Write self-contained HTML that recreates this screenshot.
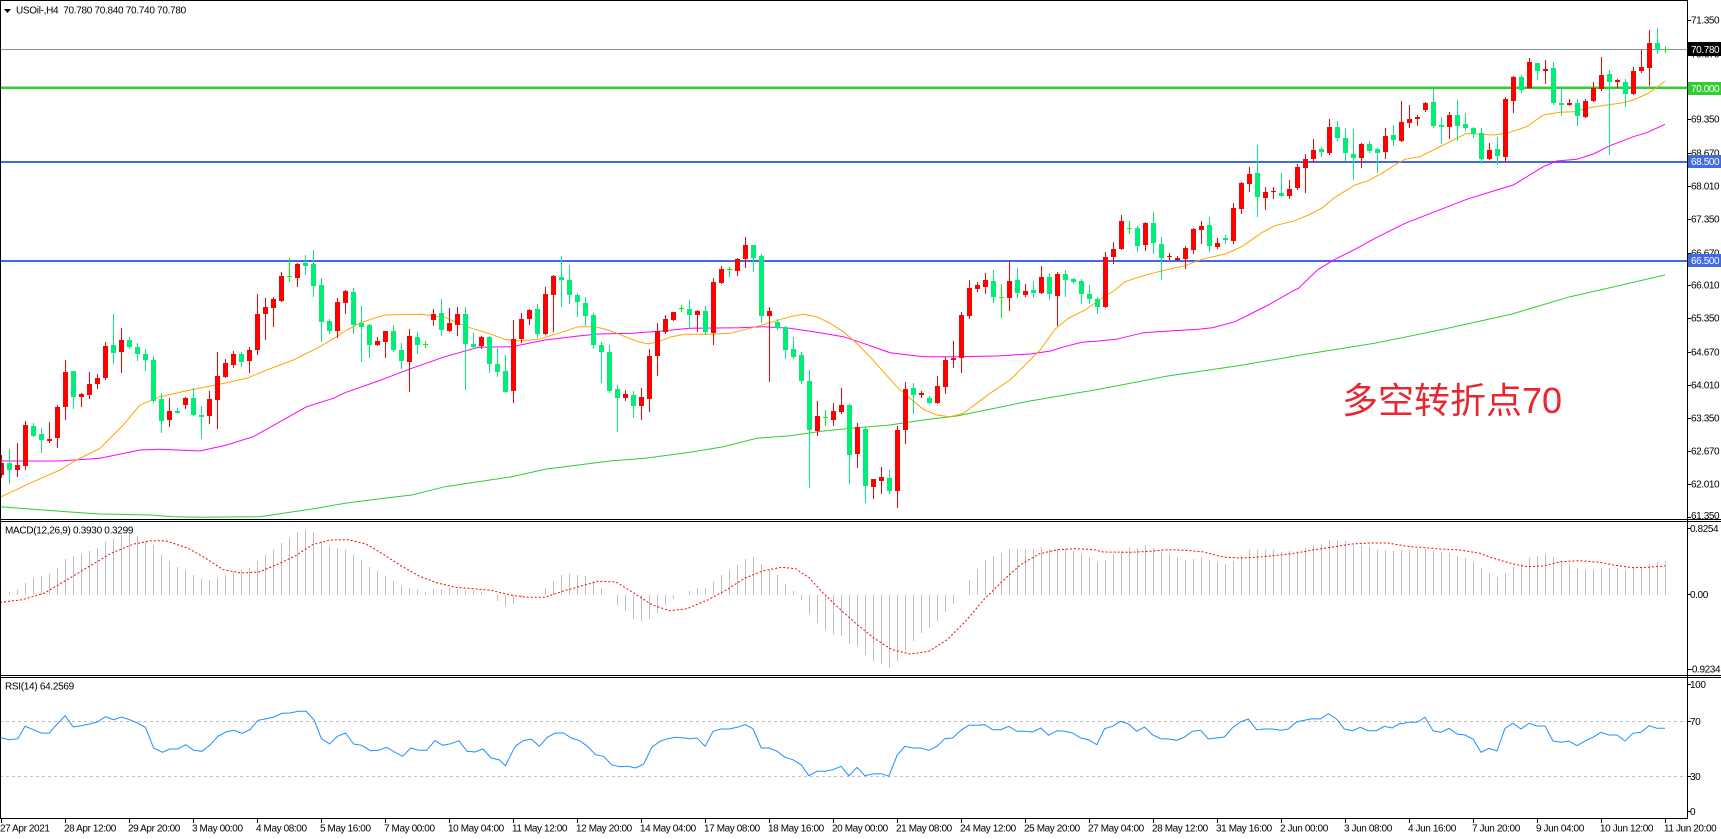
<!DOCTYPE html>
<html><head><meta charset="utf-8">
<style>
html,body{margin:0;padding:0;background:#fff;width:1721px;height:839px;overflow:hidden}
svg{display:block}
text{font-family:"Liberation Sans","DejaVu Sans",sans-serif;font-size:10px;fill:#000;letter-spacing:-0.4px}
</style></head><body>
<svg id="s" width="1721" height="839" viewBox="0 0 1721 839" xmlns="http://www.w3.org/2000/svg">
<rect width="1721" height="839" fill="#fff"/>
<g id="lv" shape-rendering="crispEdges">
<rect x="0" y="49" width="1687" height="1" fill="#8a949c"/>
<rect x="0" y="86.5" width="1687" height="2.7" fill="#32cd32"/>
<rect x="0" y="161" width="1687" height="2" fill="#4169e1"/>
<rect x="0" y="260" width="1687" height="2" fill="#4169e1"/>
<rect x="0" y="721" width="1687" height="1" fill="none"/>
</g>
<g id="ma"></g>
<g id="g" shape-rendering="crispEdges"></g>
<g id="sub"></g>
<!-- borders -->
<g shape-rendering="crispEdges" fill="#000">
<rect x="0" y="0" width="1688" height="1"/>
<rect x="0" y="0" width="1" height="819"/>
<rect x="1687" y="0" width="1" height="819"/>
<rect x="0" y="519" width="1721" height="1"/>
<rect x="0" y="521" width="1721" height="1"/>
<rect x="0" y="675" width="1721" height="1"/>
<rect x="0" y="677" width="1721" height="1"/>
<rect x="0" y="818" width="1688" height="1"/>
</g>
<g id="ticks" shape-rendering="crispEdges" fill="#000"></g>
<!-- header -->
<polygon points="4,9 11,9 7.5,13" fill="#000"/>
<text x="16" y="13.5" style="letter-spacing:-0.3px">USOil-,H4&#160;&#160;70.780 70.840 70.740 70.780</text>
<text x="5" y="533.5" style="letter-spacing:-0.3px">MACD(12,26,9) 0.3930 0.3299</text>
<text x="5" y="689.5" style="letter-spacing:-0.3px">RSI(14) 64.2569</text>
<!-- price axis labels -->
<text x="1691" y="23.6">71.350</text>
<text x="1691" y="57.6">70.670</text>
<text x="1691" y="90.6">70.010</text>
<text x="1691" y="122.6">69.350</text>
<text x="1691" y="156.6">68.670</text>
<text x="1691" y="189.6">68.010</text>
<text x="1691" y="222.6">67.350</text>
<text x="1691" y="256.6">66.670</text>
<text x="1691" y="288.6">66.010</text>
<text x="1691" y="321.6">65.350</text>
<text x="1691" y="355.6">64.670</text>
<text x="1691" y="388.6">64.010</text>
<text x="1691" y="421.6">63.350</text>
<text x="1691" y="454.6">62.670</text>
<text x="1691" y="487.6">62.010</text>
<text x="1691" y="518.8">61.350</text>
<g shape-rendering="crispEdges">
<rect x="1688" y="42" width="33" height="14" fill="#000"/>
<rect x="1688" y="82" width="33" height="13" fill="#32cd32"/>
<rect x="1688" y="155" width="33" height="13" fill="#4169e1"/>
<rect x="1688" y="254" width="33" height="13" fill="#4169e1"/>
</g>
<text x="1691" y="52.8" style="fill:#fff">70.780</text>
<text x="1691" y="92" style="fill:#fff">70.000</text>
<text x="1691" y="165.2" style="fill:#fff">68.500</text>
<text x="1691" y="264.2" style="fill:#fff">66.500</text>
<!-- MACD axis -->
<text x="1690" y="532">0.8254</text>
<text x="1690" y="598">0.00</text>
<text x="1689" y="672.5">-0.9234</text>
<!-- RSI axis -->
<text x="1690" y="688">100</text>
<text x="1690" y="725">70</text>
<text x="1690" y="780">30</text>
<text x="1690" y="815">0</text>
<!-- time axis -->
<text x="0" y="831.5">27 Apr 2021</text>
<text x="64" y="831.5">28 Apr 12:00</text>
<text x="128" y="831.5">29 Apr 20:00</text>
<text x="192" y="831.5">3 May 00:00</text>
<text x="256" y="831.5">4 May 08:00</text>
<text x="320" y="831.5">5 May 16:00</text>
<text x="384" y="831.5">7 May 00:00</text>
<text x="448" y="831.5">10 May 04:00</text>
<text x="512" y="831.5">11 May 12:00</text>
<text x="576" y="831.5">12 May 20:00</text>
<text x="640" y="831.5">14 May 04:00</text>
<text x="704" y="831.5">17 May 08:00</text>
<text x="768" y="831.5">18 May 16:00</text>
<text x="832" y="831.5">20 May 00:00</text>
<text x="896" y="831.5">21 May 08:00</text>
<text x="960" y="831.5">24 May 12:00</text>
<text x="1024" y="831.5">25 May 20:00</text>
<text x="1088" y="831.5">27 May 04:00</text>
<text x="1152" y="831.5">28 May 12:00</text>
<text x="1216" y="831.5">31 May 16:00</text>
<text x="1280" y="831.5">2 Jun 00:00</text>
<text x="1344" y="831.5">3 Jun 08:00</text>
<text x="1408" y="831.5">4 Jun 16:00</text>
<text x="1472" y="831.5">7 Jun 20:00</text>
<text x="1536" y="831.5">9 Jun 04:00</text>
<text x="1600" y="831.5">10 Jun 12:00</text>
<text x="1664" y="831.5">11 Jun 20:00</text>
<!-- annotation -->
<text x="1342" y="413" style="font-family:'Liberation Sans','Noto Sans CJK SC','WenQuanYi Zen Hei',sans-serif;font-size:36px;fill:#e8262d;letter-spacing:0">多空转折点70</text>
</svg>
<script>
(function(){
var NS='http://www.w3.org/2000/svg';
function el(p,t,a){var e=document.createElementNS(NS,t);for(var k in a)e.setAttribute(k,a[k]);p.appendChild(e);return e;}
var G=document.getElementById('g'),MA=document.getElementById('ma'),SUB=document.getElementById('sub'),TK=document.getElementById('ticks');
var COL={R:'#ff0000',G:'#00ee76',L:'#00ff00'};
var sets=[
[0,0,"R1365,1388,1425,1432 G1348,1388,1410,1448 R1330,1395,1410,1428 R1263,1275,1398,1408 G1270,1278,1308,1308 G1285,1302,1320,1355 R1265,1317,1323,1325 R1215,1220,1313,1340 R1080,1115,1220,1257 G1112,1112,1190,1225 R1180,1182,1190,1218 R1115,1152,1185,1193 R1122,1133,1153,1165 R1025,1038,1135,1137 G942,1035,1058,1090 R985,1020,1055,1115 G1012,1020,1040,1045 G1030,1042,1062,1080 G1048,1062,1080,1110 G1068,1080,1203,1205 G1180,1198,1262,1295 R1195,1233,1260,1278 G1225,1233,1240,1240 R1190,1195,1215,1225 G1165,1195,1245,1245 G1218,1245,1250,1315 R1172,1197,1248,1268 R1055,1128,1200,1285 R1078,1090,1130,1130 R1052,1062,1095,1100 G1055,1062,1085,1098 R1042,1050,1082,1115 R882,942,1050,1062 R895,920,942,1018 R890,897,925,978 R815,828,902,902 L775,828,832,842 R790,792,833,858 G765,790,797,822 G750,792,857,888 G835,855,965,1022 G958,963,993,1000 R895,905,992,1012 R870,873,908,938"],
[44,200,"G265,276,375,398 G318,370,380,483 G372,375,435,470 R410,422,435,435 R393,393,425,470 G375,393,450,452 G430,450,483,505 R387,408,485,572 G397,410,435,458 L423,431,434,440 R327,342,360,375 G297,340,390,405 R323,370,392,392 R322,342,375,405 G322,342,432,567 G400,432,440,445 R408,410,437,443 G408,410,492,515 G443,492,515,527 G465,513,575,575 R360,417,573,605 R340,357,417,425 R328,330,357,373 G312,327,402,412 R262,282,402,402 R225,228,285,392 G168,232,240,318 G195,240,285,310 G280,285,305,347 G292,309,347,375 G340,345,435,443 G427,435,456,545 G435,456,573,575 G555,567,593,692 R570,583,593,600 G573,585,617,650 R563,590,617,656 R447,467,597,632 R368,393,468,525 R345,357,395,400 R335,336,360,360 L315,323,328,333 G300,327,345,380"],
[87,170,"R420,423,435,482 G408,423,485,492 R323,336,488,523 R288,297,338,338 L292,297,302,317 R265,268,302,315 R200,225,268,290 G225,225,263,302 G252,258,437,455 R410,423,437,632 G448,455,475,478 G467,470,540,565 G500,537,562,565 G545,555,632,640 G600,632,780,950 R692,738,782,795 L720,740,743,765 R698,723,750,765 R653,705,725,730 G702,705,855,938 R760,772,852,890 G772,777,947,995 R927,927,950,983 R890,920,933,970 G900,923,963,968 R768,780,962,1010 R635,657,780,820 G640,653,675,728 R662,668,675,680 G678,685,700,700 R618,648,700,700 R562,570,650,668 R513,563,570,590 R425,435,563,605 R330,355,437,445 R335,345,357,362 R310,330,350,370 G300,333,380,395 L342,380,383,440 R272,333,383,420 G293,330,370,382 R343,363,375,378 G333,360,370,380"],
[130,60,"R618,650,700,700 G640,650,703,717 R635,642,707,795 G630,642,660,707 G653,657,665,670 G658,663,703,730 G675,702,717,730 G710,717,742,760 R575,590,740,740 R545,567,590,610 R465,483,567,567 L483,503,507,520 G497,503,557,572 R485,488,555,570 G457,488,550,578 G530,552,593,657 R580,588,590,597 R588,593,600,600 R558,563,597,623 R503,507,570,578 R483,497,510,548 G470,495,557,572 R535,548,560,563 G525,533,540,548 R428,443,543,550 R365,368,447,458 R320,342,372,393 G255,340,412,467 R380,395,413,447 R380,392,397,415 G340,398,407,407 R360,387,407,415 R312,320,383,387 R283,297,323,397 R237,270,297,302 G262,268,275,288 R177,200,278,282 G183,200,233,240 G205,233,280,300 G207,282,293,358 R250,252,293,320 G243,252,272,275 G263,268,278,335 R205,228,275,293 G195,225,240,255 R122,185,242,242"],
[176,0,"R315,357,368,380 R345,350,357,375 R305,308,330,332 G265,305,378,382 G350,375,380,428 R337,345,380,415 G300,345,378,420 G340,372,383,390 G380,383,403,410 G385,400,477,488 R430,450,478,478 G410,447,467,493 R290,297,470,482 R228,230,302,335 G225,232,270,275 R175,185,265,265 G188,190,212,237 R180,207,212,250 G185,203,310,312 G265,310,315,345 R298,310,315,315 G298,310,347,375 R298,302,350,350 R245,263,302,302 R170,225,268,270 G210,222,245,462 R238,240,245,260 G238,247,282,318 R200,213,283,283 R150,202,212,215 R90,128,205,255 G84,128,150,160 L138,148,150,155"]
];
sets.forEach(function(s){
  var start=s[0],off=s[1],items=s[2].split(' ');
  items.forEach(function(it,j){
    var c=it[0],v=it.slice(1).split(',').map(Number),i=start+j,cx=1+8*i;
    var hi=Math.round(off+v[0]/3),tp=Math.round(off+v[1]/3),bt=Math.round(off+v[2]/3),lo=Math.round(off+v[3]/3);
    var col=COL[c];
    el(G,'rect',{x:cx,y:hi,width:1,height:Math.max(1,lo-hi+1),fill:col});
    if(c==='L'){el(G,'rect',{x:cx-2,y:tp,width:5,height:1,fill:col});}
    else el(G,'rect',{x:cx-2,y:tp,width:5,height:Math.max(1,bt-tp),fill:col});
  });
});
function pl(par,pts,col,extra){
  var a={points:pts.map(function(p){return p[0].toFixed(1)+','+p[1].toFixed(1);}).join(' '),fill:'none',stroke:col,'stroke-width':1};
  if(extra)for(var k in extra)a[k]=extra[k];
  el(par,'polyline',a);
}
var orange=[[0,497.3],[33.3,481.7],[60,470],[76.7,460],[100,448.3],[123.3,425],[140,405],[160,396.7],[186.7,390.7],[206.7,386.7],[226.7,382.7],[246.7,378.3],[266.7,370],[293.3,360],[320,346.7],[336.7,336.7],[345,331],[361,322.7],[377,317.3],[385,315],[421.7,314.3],[431.7,315.7],[445,317.3],[458.3,323.3],[471.7,328.3],[488.3,333.3],[505,339.3],[518.3,341],[538.3,339.3],[558.3,333.3],[578.3,326.7],[595,326.7],[608.3,330],[625,336.7],[638.3,341.7],[648.3,344],[658.3,341.7],[671.7,336.7],[685,334.3],[710,334.3],[730,333.3],[750,328.3],[770,322.7],[790,316.7],[803.3,314.3],[816.7,316.7],[830,323.3],[843.3,331.7],[856.7,343.3],[870,356.7],[883.3,371.7],[896.7,386.7],[910,398.3],[923.3,409.3],[936.7,415],[950,416.7],[963.3,413.3],[976.7,403.3],[990,393.3],[1010,380],[1023.3,366.7],[1030,360],[1040,350],[1055,329.3],[1068.3,318.3],[1085,310],[1101.7,298.3],[1115,290],[1125,281.7],[1135,278.3],[1148.3,274.3],[1168.3,269.3],[1185,265.7],[1201.7,259.3],[1225,254],[1241.7,246.7],[1261.7,232.7],[1275,225.7],[1295,220.7],[1308.3,215],[1321.7,208.3],[1335,197.3],[1355,185],[1368.3,180.7],[1381.7,173.3],[1395,165],[1405,159.3],[1420,156.7],[1433.3,150],[1450,141.7],[1466.7,133.3],[1480,134.3],[1493.3,135],[1506.7,133.3],[1526.7,126.7],[1543.3,115],[1560,112.3],[1573.3,111.7],[1586.7,108.3],[1606.7,105],[1620,103.3],[1633.3,100],[1646.7,94],[1656.7,87.7],[1665,81]];
var magenta=[[0,461],[60,461],[100,458.3],[140,450],[160,449.3],[200,451],[226.7,445],[253.3,436.7],[280,421.7],[306.7,406.7],[333.3,398.3],[345,392.7],[378.3,381],[411.7,368.3],[445,356.7],[478.3,347.3],[511.7,346.7],[545,340],[578.3,336],[598.3,334],[631.7,333.3],[661.7,331],[690,328.3],[740,327.7],[763.3,326.7],[790,328.3],[816.7,332.3],[843.3,336.7],[863.3,343.3],[890,352.7],[923.3,356.7],[956.7,356.7],[996.7,356],[1030,354],[1050.7,351],[1064.4,346.7],[1081.7,342.3],[1098.9,341],[1116.1,339.3],[1143.6,332.7],[1157.4,331.7],[1198.3,329.3],[1212.5,327.7],[1235,321.7],[1250.4,314],[1268.3,305],[1291.7,291.7],[1298.3,288.3],[1318.3,269.3],[1335,259.3],[1355,249.3],[1375,238.3],[1405,223.3],[1466.7,199.3],[1496.7,190],[1513.3,185],[1543.3,166.7],[1556.7,161],[1576.7,159.3],[1593.3,154],[1610,145.7],[1633.3,136.7],[1646.7,132.7],[1665,124.3]];
var green=[[0,506.7],[33.3,509.3],[66.7,511.7],[100,514],[150,515],[173.3,516.7],[200,517.3],[260,516.7],[283.3,513.3],[316.7,508.3],[345,503.3],[378.3,499],[411.7,495],[445,486.7],[478.3,481.7],[511.7,476.7],[545,469.3],[578.3,465],[611.7,460.7],[645,458.3],[690,452.3],[723.3,446.7],[756.7,438.3],[790,435.7],[823.3,431],[856.7,427.7],[890,425],[923.3,420],[956.7,416],[990,409.3],[1023.3,402.3],[1030,401],[1098.9,389.3],[1167.7,376],[1236.6,366],[1305.5,354.3],[1374.4,343.3],[1443.2,329.3],[1512,314],[1570,296.7],[1600,290],[1665,275]];
pl(MA,green,'#32cd32');
pl(MA,magenta,'#ff00ff');
pl(MA,orange,'#ffa500');
// MACD histogram
var h8=[230,222,215,195,180,175,168,150,123,115,108,100,90,72,62,50,45,55,70,80,110,130,147,155,170,183,185,180,170,162,157,150,128,110,95,75,60,43,37,42,70,85,90,95,110,125,148,160,175,188,205,210,215,222,212,212,210,212,215,215,222,232,248,265,258,240,232,232,210,188,172,168,170,175,188,210,232,262,280,302,310,302,285,262,243,232,218,210,
210,192,170,155,140,123,117,138,155,172,198,218,245,288,315,335,348,355,378,383,410,428,437,450,428,398,370,345,330,308,282,258,232,185,153,125,113,105,93,93,93,93,88,92,93,93,98,108,117,132,125,108,100,88,90,82,90,98,108,118,125,122,118,127,133,138,128,112,97,97,97,97,102,100,98,90,82,78,65,65,70,80,80,85,97,97,100,
96,96,93,93,96,101,104,114,121,131,151,164,176,164,146,138,119,114,108,116,128,138,149,156,156,149,149,149,156,151,151,139,133,129];
var y0=595;
for(var i=0;i<h8.length&&i<209;i++){
  var y=Math.round(518+h8[i]/3),cx=1+8*i;
  if(Math.abs(y-y0)<1)continue;
  el(SUB,'rect',{x:cx,y:Math.min(y,y0),width:1,height:Math.abs(y-y0),fill:'#c0c0c0','shape-rendering':'crispEdges'});
}
// signal
var sig=[];
[[0,253],[50,245],[100,225],[150,185],[200,145],[250,105],[300,78],[340,68],[370,68],[420,90],[460,120],[500,155],[540,165],[580,162],[620,140],[660,115],[700,80],[740,66],[780,65],[820,78],[860,110],[900,145],[940,175],[980,195],[1020,208],[1060,212],[1100,217],[1140,230],[1180,238],[1220,238],[1260,220],[1300,205],[1340,190],[1380,192],[1420,225],[1460,260],[1500,278],[1540,272]].forEach(function(p){sig.push([p[0]/2.24,518+p[1]/3]);});
[[0,268],[40,245],[80,215],[120,180],[160,158],[200,148],[230,152],[260,180],[290,225],[320,265],[360,315],[400,360],[440,395],[480,408],[520,400],[560,365],[600,310],[640,245],[680,190],[720,140],[760,108],[800,95],[840,92],[880,95],[900,102],[960,103],[1000,100],[1040,95],[1080,97],[1120,102],[1160,117],[1200,120],[1240,117],[1280,112],[1320,105],[1360,95],[1400,87],[1440,78],[1480,75],[1520,75]].forEach(function(p){sig.push([690+p[0]/2.178,518+p[1]/3]);});
[[30,320],[60,322],[120,327],[180,330],[240,340],[280,355],[340,372],[380,380],[430,378],[480,365],[540,362],[600,367],[640,375],[700,383],[740,382],[795,378]].forEach(function(p){sig.push([1400+p[0]/3,440+p[1]/3]);});
pl(SUB,sig,'#ff0000',{'stroke-dasharray':'2 2'});
// RSI levels
el(SUB,'line',{x1:0,y1:721.5,x2:1687,y2:721.5,stroke:'#c0c0c0','stroke-width':1,'stroke-dasharray':'3 3','shape-rendering':'crispEdges'});
el(SUB,'line',{x1:0,y1:776.5,x2:1687,y2:776.5,stroke:'#c0c0c0','stroke-width':1,'stroke-dasharray':'3 3','shape-rendering':'crispEdges'});
// RSI
var rsi=[];
[[0,658],[20,665],[40,662],[56,625],[75,635],[92,645],[110,646],[128,618],[146,593],[164,627],[182,623],[200,618],[218,612],[236,596],[254,605],[272,597],[290,605],[308,615],[326,628],[344,690],[364,703],[380,693],[398,693],[416,680],[434,697],[452,700],[470,682],[488,655],[506,642],[524,637],[542,646],[560,635],[578,607],[596,602],[614,597],[632,586],[650,585],[668,580],[686,580],[704,607],[720,662],[738,678],[756,655],[774,645],[792,678],[810,682],[830,698],[848,697],[866,688],[884,702],[902,715],[920,690],[938,697],[956,697],[974,668],[992,682],[1010,677],[1028,668],[1046,700],[1064,702],[1082,693],[1100,720],[1118,725],[1132,743],[1154,685],[1172,668],[1190,663],[1208,685],[1226,658],[1244,645],[1262,645],[1280,660],[1298,668],[1316,685],[1334,710],[1352,715],[1370,740],[1388,746],[1406,745],[1424,750],[1442,738],[1460,688],[1478,670],[1496,662],[1514,658],[1532,660]].forEach(function(p){rsi.push([p[0]/2.24,518+p[1]/3]);});
[[0,662],[15,660],[33,685],[50,640],[68,633],[85,633],[103,628],[120,620],[137,632],[155,690],[172,690],[190,700],[207,718],[224,725],[242,740],[259,773],[277,760],[294,760],[311,755],[329,745],[346,773],[364,748],[381,773],[398,768],[416,767],[433,775],[451,712],[468,685],[485,690],[503,690],[520,697],[538,685],[555,662],[572,660],[590,637],[607,622],[625,622],[642,620],[659,635],[677,635],[694,625],[712,640],[729,640],[746,642],[764,630],[781,652],[799,638],[816,640],[833,645],[851,660],[868,665],[886,680],[903,632],[920,625],[938,610],[955,618],[973,640],[990,627],[1007,650],[1025,662],[1042,663],[1060,667],[1077,657],[1094,640],[1112,637],[1129,663],[1147,660],[1164,657],[1181,630],[1199,612],[1216,603],[1234,635],[1251,633],[1268,633],[1286,637],[1303,633],[1321,612],[1338,607],[1355,602],[1373,603],[1390,587],[1408,603],[1425,633],[1443,638],[1460,628],[1477,638],[1495,638],[1512,625],[1530,630],[1547,615]].forEach(function(p){rsi.push([690+p[0]/2.178,518+p[1]/3]);});
[852,847,847,832,872,877,865,882,885,897,937,925,933,865,850,867,850,858,858,903,907,903,917,903,892,877,885,885,903,880,877,857,865,865].forEach(function(v,j){rsi.push([1+8*(175+j),440+v/3]);});
pl(SUB,rsi,'#1e90ff');
// axis ticks
[20,54,87,119,153,186,219,253,285,318,352,385,418,451,484,517,528,594,669,684,721,776,811].forEach(function(y){el(TK,'rect',{x:1688,y:y,width:3,height:1});});
for(var k=0;k<27;k++){el(TK,'rect',{x:1+64*k,y:819,width:1,height:4});}
})();
</script>
</body></html>
